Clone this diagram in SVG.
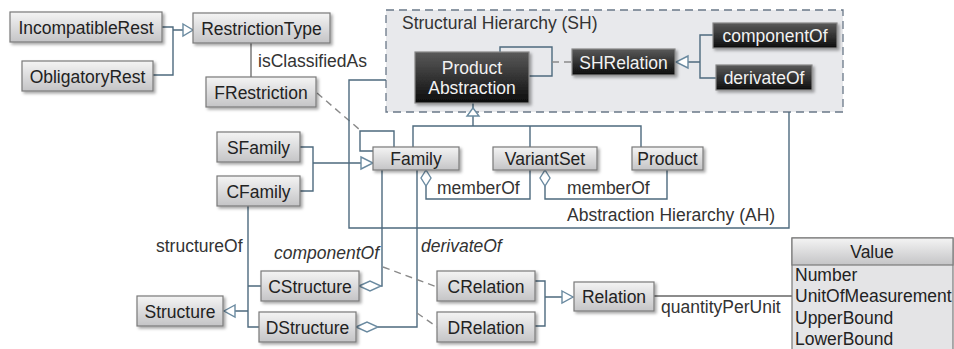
<svg xmlns="http://www.w3.org/2000/svg" width="954" height="349" viewBox="0 0 954 349">
<defs>
<linearGradient id="gLight" x1="0" y1="0" x2="0" y2="1">
<stop offset="0" stop-color="#f4f4f4"/>
<stop offset="1" stop-color="#c4c4c6"/>
</linearGradient>
<linearGradient id="gDark" x1="0" y1="0" x2="0" y2="1">
<stop offset="0" stop-color="#5a5a5a"/>
<stop offset="1" stop-color="#0c0c0c"/>
</linearGradient>
<filter id="sh" x="-10%" y="-20%" width="130%" height="160%">
<feDropShadow dx="2" dy="2" stdDeviation="1.5" flood-color="#000" flood-opacity="0.35"/>
</filter>
</defs>
<style>
.box{fill:url(#gLight);stroke:#7a7a7a;stroke-width:1.2;filter:url(#sh)}
.dark{fill:url(#gDark);stroke:#888;stroke-width:1.2;filter:url(#sh)}
.t{font-family:"Liberation Sans",Arial,sans-serif;font-size:17.5px;fill:#222}
.tw{font-family:"Liberation Sans",Arial,sans-serif;font-size:17.5px;fill:#f2f2f2}
.lbl{font-family:"Liberation Sans",Arial,sans-serif;font-size:17.5px;fill:#333}
.it{font-family:"Liberation Sans",Arial,sans-serif;font-size:17.5px;fill:#333;font-style:italic}
.c{fill:none;stroke:#4d6a7e;stroke-width:1.4}
.g{fill:none;stroke:#666;stroke-width:1.3}
.d{fill:none;stroke:#8a8a8a;stroke-width:1.4;stroke-dasharray:7 5}
.tri{fill:#fff;stroke:#6a8aa0;stroke-width:1.4}
.dia{fill:#fff;stroke:#6a8aa0;stroke-width:1.4}
</style>
<rect width="954" height="349" fill="#fff"/>

<g id="SH">
<rect x="386" y="10" width="457" height="102" fill="#e8e9ec" stroke="#6a7888" stroke-width="1.3" stroke-dasharray="8 5"/>
<text class="lbl" x="402" y="29">Structural Hierarchy (SH)</text>
</g>

<g id="connectors">
<path class="c" d="M162,27 H173 V30 H183 M153,75 H173 V30"/>
<polygon class="tri" points="183,24 193,30 183,36"/>
<path class="g" d="M251,43 V77"/>
<path class="d" d="M317,93 L360,130"/>
<path class="c" d="M386,80 H349 V228 H789 V112"/>
<path class="c" d="M500,52 V47 H552 V76 H529"/>
<path class="d" d="M552,62 H572"/>
<path class="c" d="M713,35 H700 V78 H716 M700,62 H688"/>
<polygon class="tri" points="688,56 676,62 688,68"/>
<path class="c" d="M473,103 V108 M473,116 V126 M413,147 V126 H641 V147 M530,126 V147"/>
<polygon class="tri" points="473,108 467,116 479,116"/>
<path class="c" d="M394,147 V131 H360 V151 H373"/>
<path class="c" d="M300,147 H313 V191 H300 M313,163 H361"/>
<polygon class="tri" points="361,157 373,163 361,169"/>
<path class="c" d="M426,186 V199 H530 V170"/>
<polygon class="dia" points="426,170 431,178 426,186 421,178"/>
<path class="c" d="M545,186 V199 H667 V170"/>
<polygon class="dia" points="545,170 550,178 545,186 540,178"/>
<path class="c" d="M248,206 V327 H259 M248,286 H261 M248,311 H235"/>
<polygon class="tri" points="235,305 224,311 235,317"/>
<path class="c" d="M382,170 V286 H381"/>
<polygon class="dia" points="359,286 370,281 381,286 370,291"/>
<path class="c" d="M417,170 V327 H378"/>
<polygon class="dia" points="356,327 367,322 378,327 367,332"/>
<path class="d" d="M383,267 L437,287"/>
<path class="d" d="M417,313 L437,327"/>
<path class="c" d="M535,281 H545 V326 H535 M545,297 H562"/>
<polygon class="tri" points="562,291 573,297 562,303"/>
<path class="g" d="M654,296 H792"/>
</g>

<g id="IncompatibleRest"><rect class="box" x="10" y="12" width="152" height="30"/><text class="t" x="86" y="33.5" text-anchor="middle">IncompatibleRest</text></g>
<g id="RestrictionType"><rect class="box" x="193" y="13" width="137" height="30"/><text class="t" x="261.5" y="34.5" text-anchor="middle">RestrictionType</text></g>
<g id="ObligatoryRest"><rect class="box" x="22" y="61" width="131" height="30"/><text class="t" x="87.5" y="82.5" text-anchor="middle">ObligatoryRest</text></g>
<g id="FRestriction"><rect class="box" x="206" y="77" width="110" height="30"/><text class="t" x="261" y="98.5" text-anchor="middle">FRestriction</text></g>
<text class="lbl" x="258" y="67">isClassifiedAs</text>

<g id="ProductAbstraction"><rect class="dark" x="415" y="52" width="114" height="51"/><text class="tw" x="472" y="74" text-anchor="middle">Product</text><text class="tw" x="472" y="94" text-anchor="middle">Abstraction</text></g>
<g id="SHRelation"><rect class="dark" x="572" y="49" width="103" height="26"/><text class="tw" x="623.5" y="68.5" text-anchor="middle">SHRelation</text></g>
<g id="componentOfSH"><rect class="dark" x="713" y="23" width="124" height="25"/><text class="tw" x="775" y="42" text-anchor="middle">componentOf</text></g>
<g id="derivateOfSH"><rect class="dark" x="716" y="65" width="96" height="25"/><text class="tw" x="764" y="84" text-anchor="middle">derivateOf</text></g>

<g id="Family"><rect class="box" x="373" y="147" width="86" height="23"/><text class="t" x="416" y="165" text-anchor="middle">Family</text></g>
<g id="VariantSet"><rect class="box" x="493" y="147" width="104" height="23"/><text class="t" x="545" y="165" text-anchor="middle">VariantSet</text></g>
<g id="Product"><rect class="box" x="632" y="147" width="71" height="23"/><text class="t" x="667.5" y="165" text-anchor="middle">Product</text></g>
<text class="lbl" x="437" y="194">memberOf</text>
<text class="lbl" x="567" y="194">memberOf</text>
<text class="lbl" x="567" y="221">Abstraction Hierarchy (AH)</text>

<g id="SFamily"><rect class="box" x="217" y="132" width="83" height="30"/><text class="t" x="258.5" y="153.5" text-anchor="middle">SFamily</text></g>
<g id="CFamily"><rect class="box" x="217" y="176" width="83" height="30"/><text class="t" x="258.5" y="197.5" text-anchor="middle">CFamily</text></g>
<text class="lbl" x="156" y="252">structureOf</text>
<text class="it" x="274" y="259">componentOf</text>
<text class="it" x="421" y="252">derivateOf</text>

<g id="Structure"><rect class="box" x="137" y="296" width="86" height="30"/><text class="t" x="180" y="317.5" text-anchor="middle">Structure</text></g>
<g id="CStructure"><rect class="box" x="261" y="271" width="98" height="30"/><text class="t" x="310" y="292.5" text-anchor="middle">CStructure</text></g>
<g id="DStructure"><rect class="box" x="259" y="312" width="97" height="30"/><text class="t" x="307.5" y="333.5" text-anchor="middle">DStructure</text></g>
<g id="CRelation"><rect class="box" x="437" y="271" width="98" height="30"/><text class="t" x="486" y="292.5" text-anchor="middle">CRelation</text></g>
<g id="DRelation"><rect class="box" x="437" y="312" width="98" height="30"/><text class="t" x="486" y="333.5" text-anchor="middle">DRelation</text></g>
<g id="Relation"><rect class="box" x="574" y="282" width="80" height="29"/><text class="t" x="614" y="303" text-anchor="middle">Relation</text></g>
<text class="lbl" x="661" y="313">quantityPerUnit</text>

<g id="Value">
<rect x="792" y="238" width="161" height="115" fill="#e4e4e6" stroke="#7a7a7a" stroke-width="1.2"/>
<rect x="792" y="238" width="161" height="27" fill="url(#gLight)" stroke="#7a7a7a" stroke-width="1.2"/>
<text class="t" x="872" y="258" text-anchor="middle">Value</text>
<text class="t" x="795" y="281">Number</text>
<text class="t" x="795" y="302">UnitOfMeasurement</text>
<text class="t" x="795" y="324">UpperBound</text>
<text class="t" x="795" y="345">LowerBound</text>
</g>
</svg>
